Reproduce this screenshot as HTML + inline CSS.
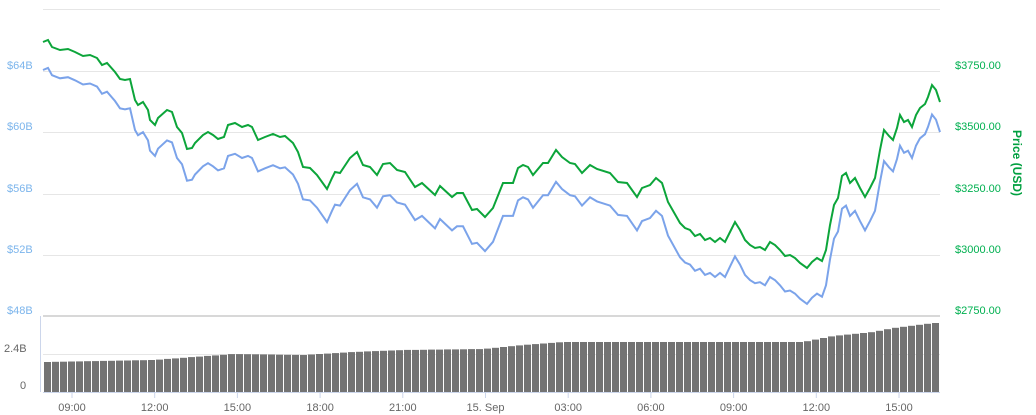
<!DOCTYPE html>
<html><head><meta charset="utf-8"><style>
html,body{margin:0;padding:0;background:#fff;width:1036px;height:415px;overflow:hidden}
svg{display:block;font-family:"Liberation Sans",sans-serif}
</style></head><body>
<svg id="s" width="1036" height="415" viewBox="0 0 1036 415">
<g stroke="#e6e6e6" stroke-width="1">
<line x1="43" x2="940" y1="9.5" y2="9.5"/>
<line x1="43" x2="940" y1="71.5" y2="71.5"/>
<line x1="43" x2="940" y1="132.5" y2="132.5"/>
<line x1="43" x2="940" y1="194.5" y2="194.5"/>
<line x1="43" x2="940" y1="255.5" y2="255.5"/>
<line x1="43" x2="940" y1="354.5" y2="354.5"/>
</g>
<line x1="43" x2="940" y1="316" y2="316" stroke="#d8d8d8" stroke-width="2"/>
<line x1="40.5" x2="40.5" y1="316" y2="392" stroke="#ccd6eb"/>
<g id="bars" fill="#737373"></g>
<line x1="43" x2="940" y1="392.5" y2="392.5" stroke="#ccd6eb"/>
<g id="ticks" stroke="#ccd6eb"></g>
<g font-size="11" fill="#7cb5ec" text-anchor="start">
<text x="7" y="69">$64B</text><text x="7" y="130">$60B</text><text x="7" y="192">$56B</text><text x="7" y="253">$52B</text><text x="7" y="314">$48B</text>
</g>
<g font-size="11" fill="#666"><text x="4" y="352">2.4B</text><text x="20" y="389">0</text></g>
<g font-size="11" fill="#00b050"><text x="955" y="69">$3750.00</text><text x="955" y="130">$3500.00</text><text x="955" y="192">$3250.00</text><text x="955" y="253">$3000.00</text><text x="955" y="314">$2750.00</text></g>
<text transform="translate(1013,163) rotate(90)" text-anchor="middle" font-size="12" font-weight="bold" fill="#00a040">Price (USD)</text>
<g id="xl" font-size="11" fill="#666" text-anchor="middle"></g>
<path id="blue" fill="none" stroke="#7ba3ea" stroke-width="2"/>
<path id="green" fill="none" stroke="#0ca53a" stroke-width="2"/>
</svg>
<script>
var g=[[43,42],[48,40],[52,47],[60,50],[68,49],[75,52],[83,56],[90,55],[97,58],[102,65],[107,63],[115,72],[120,79],[125,80],[130,79],[135,100],[138,105],[143,102],[148,110],[150,120],[155,125],[158,118],[167,110],[172,112],[177,127],[182,133],[187,149],[192,148],[195,143],[203,135],[208,132],[213,135],[218,139],[224,137],[228,125],[235,123],[242,127],[248,125],[252,127],[258,140],[265,137],[273,134],[280,137],[285,136],[293,143],[298,152],[303,167],[310,168],[317,175],[327,189],[332,178],[335,172],[340,173],[350,158],[357,152],[363,165],[370,167],[377,175],[383,164],[390,163],[397,170],[405,172],[415,187],[422,183],[435,195],[440,186],[452,197],[457,193],[463,193],[472,210],[477,209],[485,217],[493,208],[503,183],[513,183],[518,168],[523,165],[528,167],[533,175],[543,163],[548,163],[556,150],[562,157],[570,163],[575,164],[582,173],[590,165],[597,169],[610,173],[618,182],[627,183],[637,197],[642,188],[650,185],[656,178],[662,183],[668,202],[680,223],[685,228],[690,230],[695,236],[700,234],[705,240],[710,238],[715,242],[720,238],[725,242],[730,232],[735,222],[740,230],[745,240],[750,245],[755,248],[760,247],[765,250],[770,242],[775,245],[780,250],[785,256],[790,255],[795,258],[800,263],[807,268],[812,262],[817,258],[822,261],[826,250],[830,225],[834,205],[838,198],[842,176],[846,173],[850,183],[855,178],[860,188],[865,197],[870,188],[875,178],[880,150],[884,130],[889,136],[893,140],[897,128],[900,115],[904,122],[908,120],[912,127],[916,115],[920,108],[925,104],[928,97],[932,85],[936,90],[940,102]];
function d(a,o){return a.map(function(p,i){var off=o?28+(p[1]-42)*0.035:0;return (i?'L':'M')+p[0]+' '+(p[1]+off).toFixed(1)}).join('')}
document.getElementById('green').setAttribute('d',d(g,0));
document.getElementById('blue').setAttribute('d',d(g,1));
var vt=[[43,362],[150,360],[230,354],[300,355],[350,352],[400,350],[480,349],[520,345],[560,342],[800,342],[830,336],[870,332],[890,328],[930,323],[940,323]];
function vh(x){for(var i=1;i<vt.length;i++){if(x<=vt[i][0]){var a=vt[i-1],b=vt[i];return a[1]+(b[1]-a[1])*(x-a[0])/(b[0]-a[0])}}return 323}
var s='';for(var x=44;x<940;x+=8){var t=vh(x);s+='<rect x="'+x+'" y="'+t.toFixed(1)+'" width="7" height="'+(392-t).toFixed(1)+'"/>'}
document.getElementById('bars').innerHTML=s;
var L=['09:00','12:00','15:00','18:00','21:00','15. Sep','03:00','06:00','09:00','12:00','15:00'],tk='',xl='';
for(var i=0;i<11;i++){var x=72+i*82.7;tk+='<line x1="'+x+'" x2="'+x+'" y1="392" y2="398"/>';xl+='<text x="'+x+'" y="411">'+L[i]+'</text>'}
document.getElementById('ticks').innerHTML=tk;document.getElementById('xl').innerHTML=xl;
</script>
</body></html>
